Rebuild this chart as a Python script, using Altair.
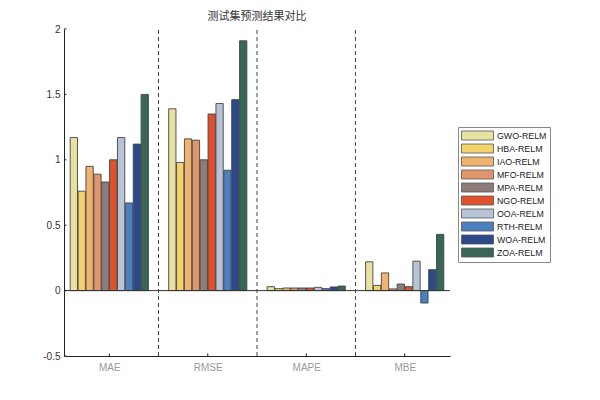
import altair as alt
import pandas as pd

metrics = ["MAE", "RMSE", "MAPE", "MBE"]
algorithms = ["GWO-RELM", "HBA-RELM", "IAO-RELM", "MFO-RELM", "MPA-RELM",
              "NGO-RELM", "OOA-RELM", "RTH-RELM", "WOA-RELM", "ZOA-RELM"]
colors = ["#e8e2a2", "#f4d26c", "#efb36e", "#e0966c", "#8c7d79",
          "#e0512c", "#b9c3d8", "#4a7fc0", "#2c4a8b", "#386757"]

mae = [1.17, 0.76, 0.95, 0.89, 0.83, 1.00, 1.17, 0.67, 1.12, 1.50]
rmse = [1.39, 0.98, 1.16, 1.15, 1.00, 1.35, 1.43, 0.92, 1.46, 1.91]
mape = [0.030, 0.015, 0.020, 0.020, 0.020, 0.020, 0.025, 0.015, 0.028, 0.035]
mbe = [0.22, 0.04, 0.135, 0.013, 0.05, 0.03, 0.225, -0.095, 0.16, 0.43]

y_ticks = [-0.5, 0, 0.5, 1, 1.5, 2]
separators = [1.5, 2.5, 3.5]

rows = []
for gi, (m, vals) in enumerate(zip(metrics, [mae, rmse, mape, mbe])):
    for si, (a, v) in enumerate(zip(algorithms, vals)):
        rows.append({"metric": m, "gi": gi + 1, "algo": a, "si": si, "value": v})
df = pd.DataFrame(rows)

XMIN, XMAX = 0.54, 4.46
YMIN, YMAX = -0.5, 2.0
xscale = alt.Scale(domain=[XMIN, XMAX], nice=False, zero=False)
yscale = alt.Scale(domain=[YMIN, YMAX], nice=False, zero=False)

label_expr = "[" + ",".join(f"'{m}'" for m in metrics) + "][datum.value - 1]"

base = alt.Chart(df)

bars = base.transform_calculate(
    xc="datum.gi + (datum.si - 4.5) * 0.08"
).transform_calculate(
    x1="datum.xc - 0.037", x2="datum.xc + 0.037"
).mark_bar(stroke="#444", strokeWidth=0.9, opacity=1).encode(
    x=alt.X("x1:Q", scale=xscale,
            axis=alt.Axis(values=[1, 2, 3, 4], labelExpr=label_expr, title=None,
                          domainColor="#222", domainWidth=1, ticks=False,
                          labelColor="#9a9a9a", labelFontSize=10, labelPadding=6,
                          labelFont="Liberation Sans", grid=False)),
    x2="x2:Q",
    y=alt.Y("value:Q", scale=yscale,
            axis=alt.Axis(values=y_ticks, labelExpr="datum.value + ''", title=None,
                          domainColor="#222", domainWidth=1, ticks=False,
                          labelColor="#333", labelFontSize=10, labelPadding=4,
                          labelFont="Liberation Sans", grid=False)),
    y2=alt.Y2(datum=0),
    color=alt.Color("algo:N", scale=alt.Scale(domain=algorithms, range=colors),
                    legend=alt.Legend(title=None, orient="none", legendX=394, legendY=98,
                                      symbolType="M-3.2,-0.9H3.2V0.9H-3.2Z", symbolSize=100,
                                      symbolOffset=11,
                                      symbolStrokeColor="#555", symbolStrokeWidth=0.8,
                                      symbolOpacity=1,
                                      labelFontSize=8.8, labelFont="Liberation Sans",
                                      labelColor="#222", strokeColor="#888",
                                      padding=3, rowPadding=0, labelOffset=14)),
)

sep = alt.Chart(pd.DataFrame({"s": separators})).mark_rule(
    color="#444", strokeDash=[4, 3], strokeWidth=1
).encode(x=alt.X("s:Q", scale=xscale), y=alt.datum(YMIN), y2=alt.datum(YMAX))

zero = alt.Chart(pd.DataFrame({"z": [0]})).mark_rule(color="#333", strokeWidth=1).encode(
    y=alt.Y("z:Q", scale=yscale))

xt = alt.Chart(pd.DataFrame({"g": [1, 2, 3, 4]})).mark_rule(color="#222").encode(
    x=alt.X("g:Q", scale=xscale), y=alt.datum(YMIN), y2=alt.datum(YMIN + 0.02))

yt = alt.Chart(pd.DataFrame({"t": y_ticks})).mark_rule(color="#222").encode(
    y=alt.Y("t:Q", scale=yscale), x=alt.datum(XMIN), x2=alt.datum(XMIN + 0.025))

chart = alt.layer(sep, bars, zero, xt, yt).properties(
    width=386, height=327,
    title=alt.TitleParams("测试集预测结果对比", fontSize=11, font="Noto Sans CJK SC",
                          fontWeight="normal", color="#333", anchor="middle", offset=2),
    autosize=alt.AutoSizeParams(type="none"),
    padding={"left": 64, "top": 29, "right": 150, "bottom": 44},
).configure_view(stroke=None)

chart.save("out.html", embed_options={"renderer": "svg", "actions": False})
